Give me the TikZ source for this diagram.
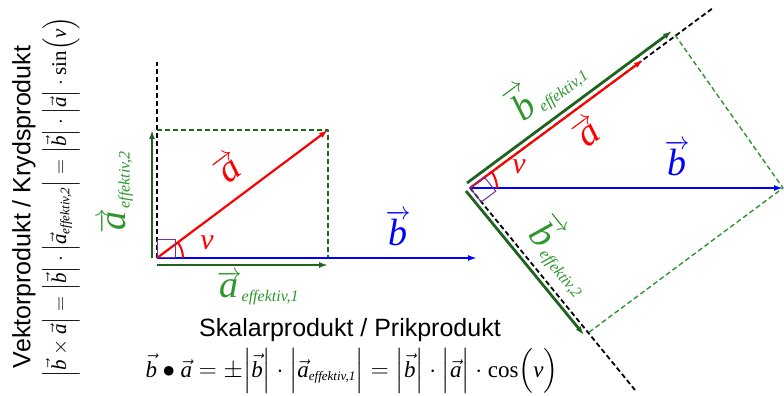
\documentclass[tikz,border=0pt]{standalone}
\usepackage{amsmath}
\usepackage{fontspec}
\setmainfont{Liberation Serif}
\setsansfont{Liberation Sans}
\usetikzlibrary{arrows.meta}
\definecolor{dgreen}{RGB}{30,100,30}
\definecolor{lgreen}{RGB}{45,150,45}
\definecolor{vpurple}{RGB}{112,48,160}
\newcommand{\va}[1]{\overrightarrow{\textit{#1}}}
\newcommand{\vs}[1]{\vec{\textit{#1}}}
\newcommand{\eff}[1]{\mbox{\fontsize{16}{18}\selectfont\itshape effektiv,#1}}
\newcommand{\effs}[1]{\mbox{\fontsize{13}{15}\selectfont\itshape effektiv,#1}}
\newcommand{\bars}[1]{\Bigl|#1\Bigr|}

\begin{document}
\begin{tikzpicture}[line cap=butt,line join=round,>={Latex[length=9pt,width=6pt]},x=1pt,y=1pt,
	vecred/.style={->,line width=2.2pt,red},
	vecblue/.style={->,line width=2pt,blue},
	veceff/.style={->,line width=2.8pt,dgreen},
	axisdash/.style={line width=1.8pt,dash pattern=on 5pt off 3pt},
	boxdash/.style={line width=1.4pt,dash pattern=on 5pt off 3pt},
	biglab/.style={font=\fontsize{38}{40}\selectfont},
	anglab/.style={font=\fontsize{30}{32}\selectfont\itshape,red},
	headline/.style={font=\sffamily\fontsize{25}{27}\selectfont},
	formula/.style={font=\fontsize{23}{26}\selectfont}]
			\useasboundingbox (0,0) rectangle (784,396);
			% left figure
			\coordinate (O1) at (157,138);
			\coordinate (A1) at (328,266);
			\coordinate (B1) at (477,138);
			\coordinate (R1) at (157,266);
			\coordinate (Q1) at (328,138);
			\coordinate (T1) at (157,334);
			\draw [axisdash] (O1)-- (T1);
			\draw [boxdash,dgreen] (R1)-- (A1)-- (Q1);
			\draw [veceff] ([yshift=-7pt]O1)-- ([yshift=-7pt]Q1);
			\draw [veceff] ([xshift=-5pt]O1)-- ([xshift=-5pt]R1);
			\draw [vecblue] (O1)-- (B1);
			\draw [vecred] (O1)-- (A1);
			\draw [vpurple,line width=1pt] (O1) rectangle ++(18,18);
			\draw [red,line width=2pt] ([shift={(0:26)}]O1) arc (0:36.8:26);
			\node [biglab,red,rotate=36.8] (la1) at (228,228) {$\va{a}$};
			\node [biglab,blue] (lb1) at (398,168) {$\va{b}$};
			\node [biglab,lgreen] (le1) at (258,108) {$\va{a}_{\eff1}$};
			\node [biglab,lgreen,rotate=90] (le2) at (116,204) {$\va{a}_{\eff2}$};
			\node [anglab] (v1) at (207,153) {v};
			% right figure
			\coordinate (O2) at (470,208);
			\coordinate (A2) at (643,336);
			\coordinate (P1) at (675,361);
			\coordinate (B2) at (783,208);
			\coordinate (P2) at (588,63);
			\coordinate (E1) at (713,388);
			\coordinate (E2) at (635,6);
			\draw [axisdash] (O2)-- (E1);
			\draw [axisdash] (O2)-- (E2);
			\draw [boxdash,lgreen] (P1)-- (B2)-- (P2);
			\draw [veceff] ([shift={(-3,5)}]O2)-- ([shift={(-3,4)}]P1);
			\draw [veceff] ([shift={(-4,-3)}]O2)-- ([shift={(-4,-2)}]P2);
			\draw [vecblue] (O2)-- (B2);
			\draw [vecred] (O2)-- (A2);
			\draw [vpurple,line width=1pt] (O2)-- ++(36.7:18)-- ++(-51:18)-- ++(216.7:18)-- cycle;
			\draw [red,line width=2pt] ([shift={(0:27)}]O2) arc (0:36.7:27);
			\node [biglab,red,rotate=36.7] (la2) at (587,264) {$\va{a}$};
			\node [biglab,blue] (lb2) at (677,238) {$\va{b}$};
			\node [biglab,lgreen,rotate=36.7] (le3) at (546,308) {$\va{b}_{\eff1}$};
			\node [biglab,lgreen,rotate=-51] (le4) at (563,140) {$\va{b}_{\eff2}$};
			\node [anglab] (v2) at (519,229) {v};
			% products
			\node [headline] (skal) at (350,66) {Skalarprodukt / Prikprodukt};
			\node [formula] (skalf) at (352,25) {$\vs{b}\bullet\vs{a}=\pm\bars{\vs{b}}\cdot\bars{\vs{a}_{\effs1}}=\bars{\vs{b}}\cdot\bars{\vs{a}}\cdot\mathrm{cos}\Bigl(\textit{v}\Bigr)$};
			\node [headline,rotate=90] (vekt) at (24,189) {Vektorprodukt / Krydsprodukt};
			\node [formula,font=\fontsize{21}{24}\selectfont,rotate=90] (vektf) at (61,199) {$\bars{\vs{b}\times\vs{a}}=\bars{\vs{b}}\cdot\bars{\vs{a}_{\effs2}}=\bars{\vs{b}}\cdot\bars{\vs{a}}\cdot\mathrm{sin}\Bigl(\textit{v}\Bigr)$};
\end{tikzpicture}
\end{document}
